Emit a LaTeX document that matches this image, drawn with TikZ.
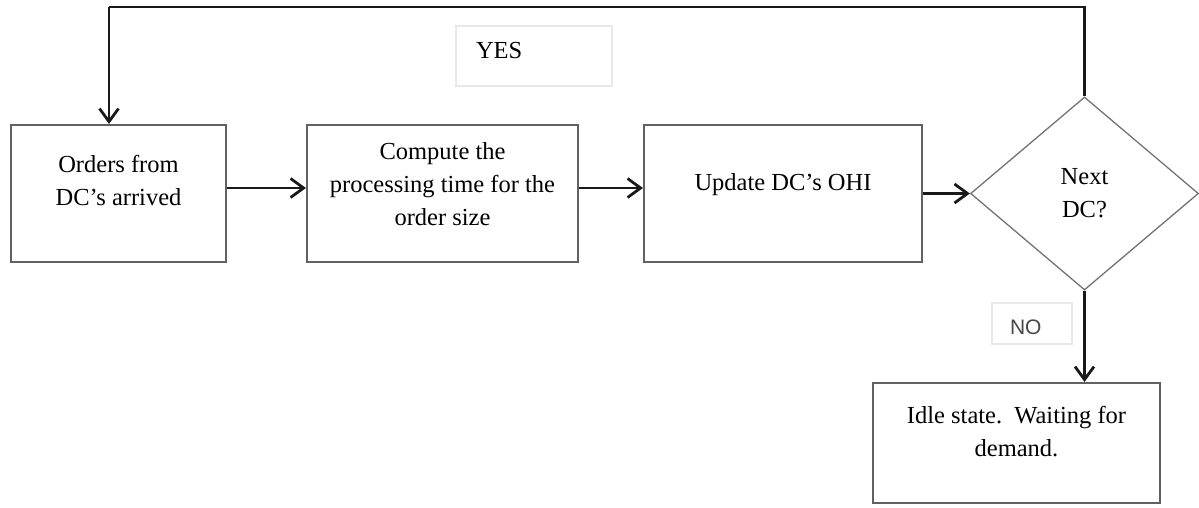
\documentclass[tikz,border=0pt]{standalone}
\usepackage{fontspec}
\setmainfont{Liberation Serif}
\newfontfamily\labelsans{Liberation Sans}
\usetikzlibrary{arrows.meta,shapes.geometric}

% box with text starting at a fixed depth below its top edge
\newcommand{\boxtext}[4]{\parbox[c][#2][t]{#1}{\centering\rule{0pt}{#3}#4}}

\tikzset{
  procbox/.style={draw=black!62, line width=2.1pt, rectangle, inner sep=0pt, fill=white},
  decision/.style={draw=black!55, line width=1.3pt, diamond, inner sep=0pt,
    minimum width=228pt, minimum height=193pt, align=center},
  tagbox/.style={draw=black!9, line width=1.2pt, rectangle, inner sep=0pt},
  conn/.style={draw=black!90, line width=2.8pt, -{Straight Barb[length=13pt,width=19pt]}},
  loopline/.style={draw=black!90, line width=2.8pt},
}

\begin{document}
\begin{tikzpicture}[x=1pt, y=-1pt, font=\fontsize{24.5}{33}\selectfont]
\useasboundingbox (0,0) rectangle (1199,507);

% process steps
\node[procbox] (arrive) at (118.5,193.5)
  {\boxtext{215pt}{137pt}{47pt}{Orders from\\DC’s arrived}};
\node[procbox] (compute) at (442.5,193.5)
  {\boxtext{271pt}{137pt}{34pt}{Compute the\\processing time for the\\order size}};
\node[procbox] (update) at (783,193.5)
  {\boxtext{278pt}{137pt}{65pt}{Update DC’s OHI}};
\node[decision] (next) at (1084.5,193.5) {Next\\DC?};
\node[procbox] (idle) at (1016.5,443)
  {\boxtext{287pt}{120pt}{40pt}{Idle state.\ \ Waiting for\\demand.}};

% branch labels
\node[tagbox] (yes) at (534,56)
  {\parbox[c][60pt][t]{156pt}{\hspace*{20pt}\rule{0pt}{32pt}YES}};
\node[tagbox] (no) at (1032,323.5)
  {\parbox[c][41pt][t]{80pt}{\hspace*{18pt}\rule{0pt}{31pt}{\labelsans\fontsize{21}{24}\selectfont\color{black!72}NO}}};

% connectors
\draw[conn] ([yshift=5.5pt]arrive.east) -- ([yshift=5.5pt]compute.west);
\draw[conn] ([yshift=5.5pt]compute.east) -- ([yshift=5.5pt]update.west);
\draw[conn] (update.east) -- (next.west);

\coordinate (loopcorner) at (109,7);
\draw[loopline] (next.north) |- (loopcorner);
\draw[conn] (loopcorner) -- (loopcorner |- arrive.north);

\draw[conn] (next.south) -- (next.south |- idle.north);
\end{tikzpicture}
\end{document}
